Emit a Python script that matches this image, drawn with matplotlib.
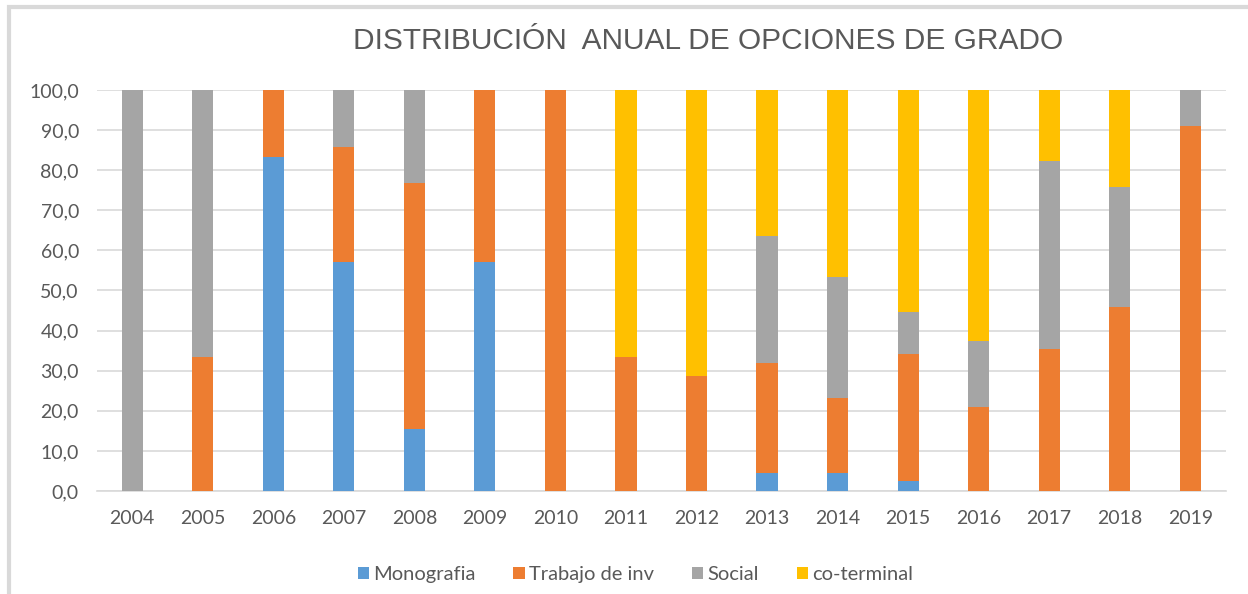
import numpy as np
import matplotlib
matplotlib.use("Agg")
from matplotlib import pyplot as plt
from matplotlib.patches import Rectangle

years = ["2004", "2005", "2006", "2007", "2008", "2009", "2010", "2011",
         "2012", "2013", "2014", "2015", "2016", "2017", "2018", "2019"]
monografia = [0, 0, 83.3, 57.1, 15.4, 57.1, 0, 0, 0, 4.5, 4.6, 2.6, 0, 0, 0, 0]
trabajo_inv = [0, 33.3, 16.7, 28.6, 61.5, 42.9, 100, 33.3, 28.6, 27.3, 18.5, 31.6, 20.9, 35.3, 45.8, 90.9]
social = [100, 66.7, 0, 14.3, 23.1, 0, 0, 0, 0, 31.8, 30.3, 10.5, 16.6, 47.1, 29.9, 9.1]
co_terminal = [0, 0, 0, 0, 0, 0, 0, 66.7, 71.4, 36.4, 46.6, 55.3, 62.5, 17.6, 24.3, 0]

series = [("Monografia", monografia, "#5B9BD5"),
          ("Trabajo de inv", trabajo_inv, "#ED7D31"),
          ("Social", social, "#A5A5A5"),
          ("co-terminal", co_terminal, "#FFC000")]

text_color = "#595959"
plt.rcParams["font.family"] = ["Lato", "DejaVu Sans"]

fig = plt.figure(figsize=(12.48, 5.94), dpi=100)
ax = fig.add_axes([0.0777, 0.1734, 0.9043, 0.6751])

# chart frame (only left and top edges visible in the reference)
fig.patches.append(Rectangle((9 / 1248, -0.1), 1.2, 1 - 7 / 594 + 0.1, transform=fig.transFigure,
                             fill=False, edgecolor="#d9d9d9", linewidth=3, zorder=0))

x = np.arange(len(years))
bottom = np.zeros(len(years))
for label, vals, color in series:
    vals = np.array(vals)
    ax.bar(x, vals, 0.3, bottom=bottom, color=color, label=label, zorder=3)
    bottom += vals

ax.set_xlim(-0.5, len(years) - 0.5)
ax.set_ylim(0, 100)
ax.set_yticks(np.arange(0, 101, 10))
ax.set_yticklabels([f"{v:.1f}".replace(".", ",") for v in np.arange(0, 101, 10)])
ax.set_xticks(x, years)
ax.tick_params(length=0, labelsize=14, colors=text_color, pad=13)
ax.tick_params(axis="x", pad=14)
ax.grid(True, axis="y", color="#d9d9d9", linewidth=1.2, zorder=0)
for s in ["top", "right", "left"]:
    ax.spines[s].set_visible(False)
ax.spines["bottom"].set_color("#d9d9d9")
ax.spines["bottom"].set_linewidth(1.2)

fig.text(0.567, 0.931, "DISTRIBUCIÓN  ANUAL DE OPCIONES DE GRADO", ha="center", va="center",
         fontsize=21.5, color=text_color, family=["Liberation Sans", "DejaVu Sans"])

fig.legend(loc="center", bbox_to_anchor=(0.509, 0.032), ncol=4, frameon=False,
           fontsize=14.5, labelcolor=text_color, handlelength=0.55, handleheight=0.55,
           handletextpad=0.2, columnspacing=1.9)

plt.savefig("out.png", dpi=100)
